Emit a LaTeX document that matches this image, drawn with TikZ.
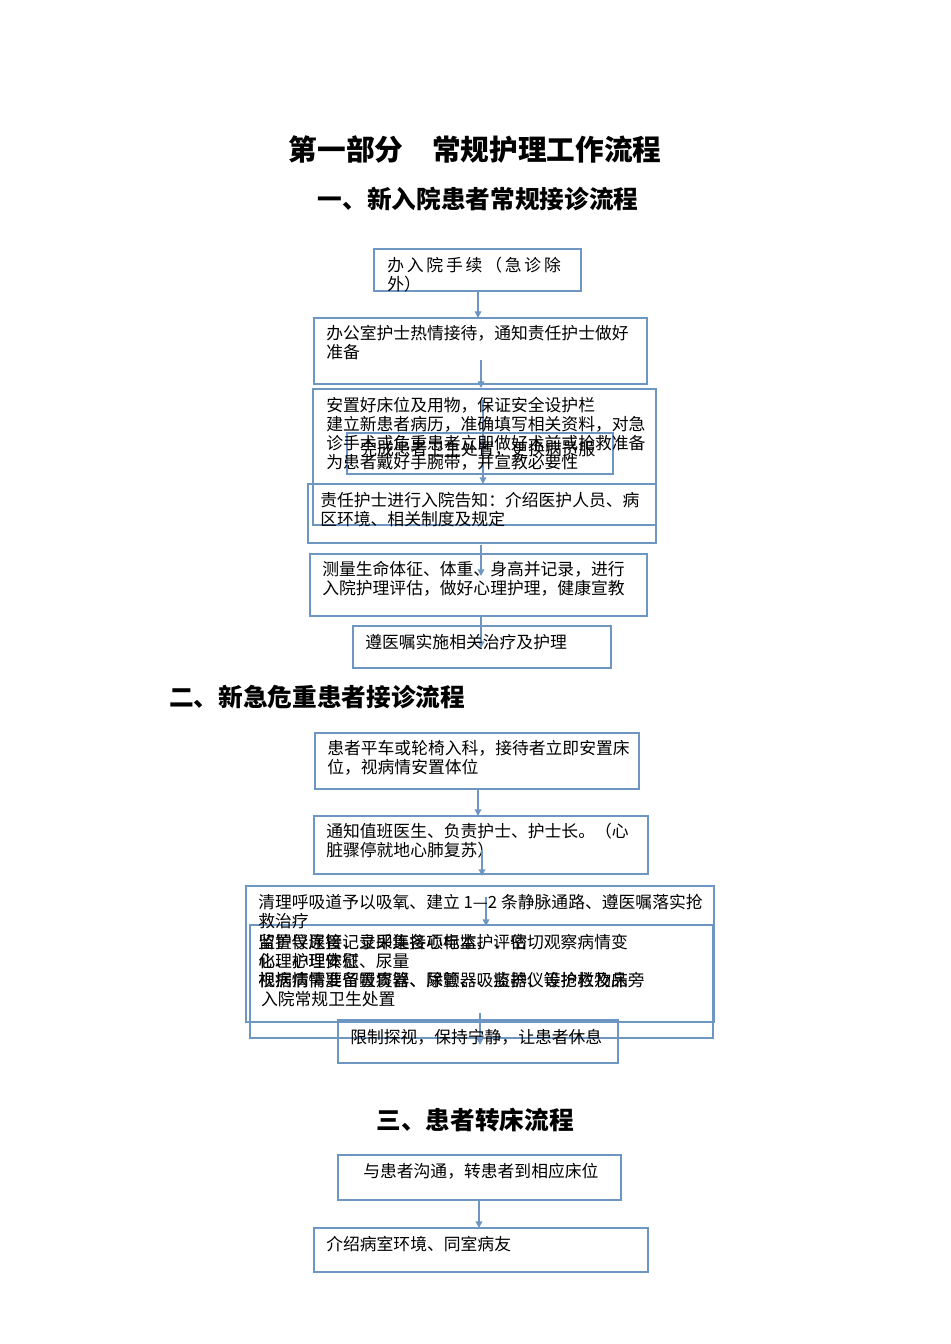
\documentclass[tikz,border=0pt]{standalone}
\usepackage{fontspec}
\setmainfont{Noto Sans CJK SC}
\usetikzlibrary{arrows.meta}
\definecolor{lc}{RGB}{110,150,195}
\begin{document}
\begin{tikzpicture}[x=0.75pt,y=-0.75pt,
 bx/.style={draw=lc,line width=1.3pt},
 tx/.style={anchor=north west,inner sep=0pt,font=\fontsize{12.6}{14.3}\selectfont,align=left},
 ar/.style={draw=lc,line width=1pt,-{Triangle[length=5pt,width=5pt]}}]
\useasboundingbox (0,0) rectangle (950,1344);
\node[font=\fontsize{21.5}{24}\selectfont\bfseries] (t0) at (475,150) {第一部分\quad 常规护理工作流程};
\node[font=\fontsize{18.5}{20}\selectfont\bfseries] (t1) at (478,199) {一、新入院患者常规接诊流程};
\node[font=\fontsize{18.5}{20}\selectfont\bfseries] (t2) at (317,697) {二、新急危重患者接诊流程};
\node[font=\fontsize{18.5}{20}\selectfont\bfseries] (t3) at (475,1120) {三、患者转床流程};
% section 1
\draw[bx] (374,249) rectangle (581,291); \coordinate (b1) at (478,291);
\node[tx] (l1) at (387,257) {办\,入\,院\,手\,续\,（\,急\,诊\,除\\外）};
\draw[bx] (314,318) rectangle (647,384); \coordinate (b2t) at (478,318);
\node[tx] (l2) at (326,325) {办公室护士热情接待，通知责任护士做好\\准备};
\draw[ar] (b1) -- (b2t);
\draw[bx] (313,389) rectangle (656,525);
\draw[bx] (347,433) rectangle (613,474);
\draw[bx] (308,484) rectangle (656,543);
\coordinate (c3a) at (481,360); \coordinate (c3b) at (481,388);
\draw[ar] (c3a) -- (c3b);
\coordinate (c3c) at (483,400); \coordinate (c3d) at (483,484);
\draw[ar] (c3c) -- (c3d);
\node[tx] (l3) at (326,397) {安置好床位及用物，保证安全设护栏\\建立新患者病历，准确填写相关资料，对急\\诊手术或危重患者立即做好术前或抢救准备\\为患者戴好手腕带，并宣教必要性};
\node[tx] (l3b) at (360,441) {完成患者卫生处置，更换病员服};
\node[tx] (l4) at (320,492) {责任护士进行入院告知：介绍医护人员、病\\区环境、相关制度及规定};
\draw[bx] (310,554) rectangle (647,616);
\coordinate (c4a) at (481,545); \coordinate (c4b) at (481,576);
\draw[ar] (c4a) -- (c4b);
\node[tx] (l5) at (322,561) {测量生命体征、体重、身高并记录，进行\\入院护理评估，做好心理护理，健康宣教};
\draw[bx] (353,626) rectangle (611,668);
\coordinate (c5a) at (481,616); \coordinate (c5b) at (481,648);
\draw[ar] (c5a) -- (c5b);
\node[tx] (l6) at (365,634) {遵医嘱实施相关治疗及护理};
% section 2
\draw[bx] (315,733) rectangle (639,789);
\node[tx] (l7) at (327,740) {患者平车或轮椅入科，接待者立即安置床\\位，视病情安置体位};
\draw[bx] (314,816) rectangle (648,874);
\coordinate (c7a) at (478,789); \coordinate (c7b) at (478,816);
\draw[ar] (c7a) -- (c7b);
\node[tx] (l8) at (326,823) {通知值班医生、负责护士、护士长。（心\\脏骤停就地心肺复苏）};
\coordinate (c8a) at (482,850); \coordinate (c8b) at (482,876);
\draw[ar] (c8a) -- (c8b);
\draw[bx] (246,886) rectangle (714,1022);
\draw[bx] (250,925) rectangle (713,1038);
\coordinate (c9a) at (486,897); \coordinate (c9b) at (486,926);
\draw[ar] (c9a) -- (c9b);
\node[tx] (l9) at (258,894) {清理呼吸道予以吸氧、建立 1—2 条静脉通路、遵医嘱落实抢\\救治疗};
\node[tx] (l10) at (258,934) {监护仪连接、立即连接心电监护、密切观察病情变\\化、心理安慰\\视病情需要留置胃管、尿管、吸痰器、设护栏及床旁\\\,入院常规卫生处置};
\node[tx] (l10b) at (258,934) {留置导尿管记录采集各项标本、评估\\心理护理体征、尿量\\根据病情准备吸痰器、除颤器、监护仪等抢救物品};
\draw[bx] (338,1020) rectangle (618,1063);
\coordinate (c10a) at (480,1013); \coordinate (c10b) at (480,1045);
\draw[ar] (c10a) -- (c10b);
\node[tx] (l11) at (350,1029) {限制探视，保持宁静，让患者休息};
% section 3
\draw[bx] (338,1155) rectangle (621,1200);
\node[tx] (l12) at (363,1163) {与患者沟通，转患者到相应床位};
\draw[bx] (314,1228) rectangle (648,1272);
\coordinate (c12a) at (479,1200); \coordinate (c12b) at (479,1228);
\draw[ar] (c12a) -- (c12b);
\node[tx] (l13) at (326,1236) {介绍病室环境、同室病友};
\end{tikzpicture}
\end{document}
